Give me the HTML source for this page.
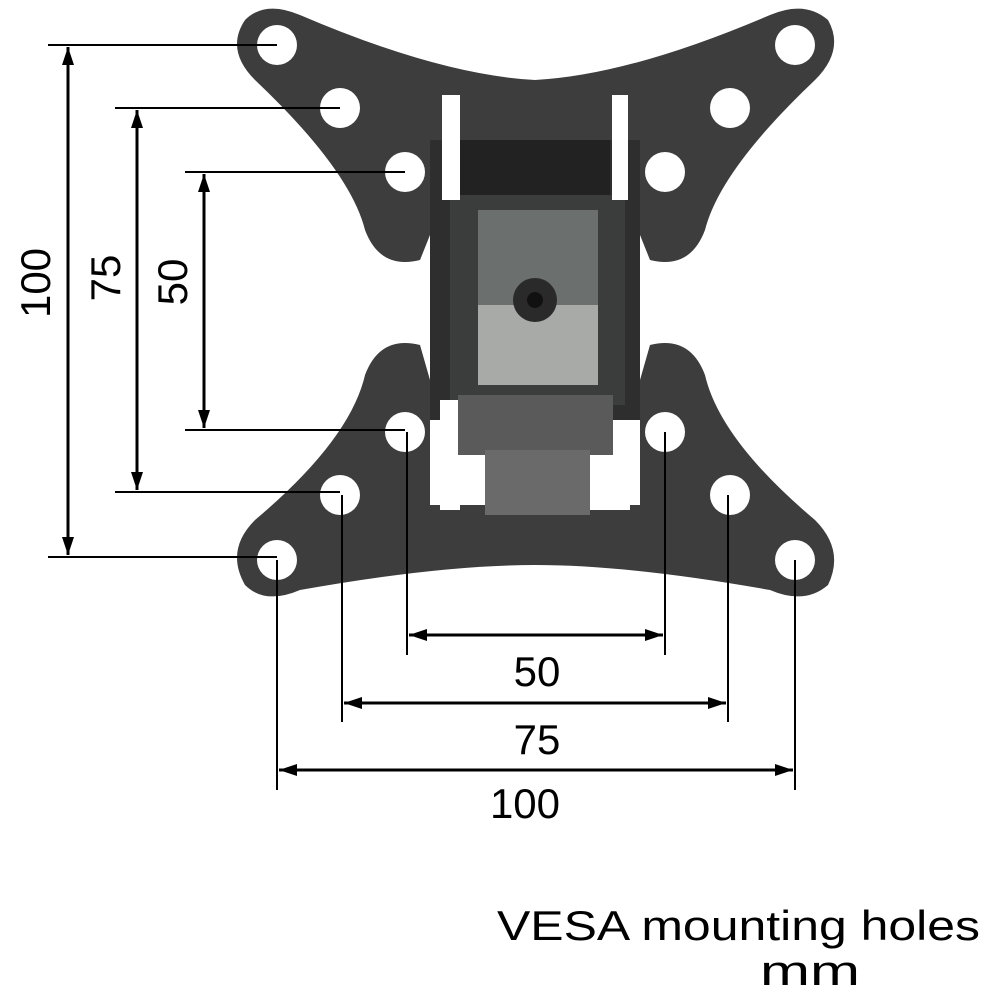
<!DOCTYPE html>
<html><head><meta charset="utf-8"><style>
html,body{margin:0;padding:0;background:#fff;width:1000px;height:1000px;overflow:hidden}
svg{display:block}
text{font-family:"Liberation Sans",sans-serif;fill:#000}
</style></head><body>
<svg width="1000" height="1000" viewBox="0 0 1000 1000" xmlns="http://www.w3.org/2000/svg">
<defs>
<marker id="a" viewBox="0 0 18 12" refX="18" refY="6" markerWidth="18" markerHeight="12" orient="auto-start-reverse" markerUnits="userSpaceOnUse">
<path d="M0,0 L18,6 L0,12 z" fill="#000"/>
</marker>
</defs>
<!-- bracket body -->
<rect x="430" y="80" width="210" height="340" fill="#2e2e2e"/>
<rect x="460" y="90" width="150" height="110" fill="#222"/>
<rect x="450" y="195" width="175" height="210" fill="#3a3d3b"/>
<rect x="478" y="210" width="120" height="175" fill="#6b6f6d"/>
<rect x="478" y="305" width="120" height="80" fill="#a8aaa8"/>
<circle cx="535" cy="300" r="22" fill="#2a2a2a"/>
<circle cx="535" cy="300" r="8" fill="#111"/>
<!-- top plate -->
<path d="M245,20 Q265,0 300,15 Q440,75 535,80 Q630,75 770,15 Q805,0 828,20 Q845,50 815,80 Q720,170 705,230 Q690,270 650,260 L640,235 L640,140 L430,140 L430,235 L420,260 Q380,270 365,230 Q350,170 255,80 Q225,50 245,20 Z" fill="#3d3d3d"/>
<rect x="442" y="95" width="18" height="105" fill="#fff"/>
<rect x="612" y="95" width="16" height="105" fill="#fff"/>
<!-- bottom plate -->
<path d="M420,345 Q380,335 365,375 Q350,440 255,520 Q225,550 245,585 Q265,605 300,590 Q440,565 535,565 Q630,565 770,590 Q805,605 828,585 Q845,550 815,520 Q720,440 705,375 Q690,335 650,345 L640,380 L640,505 L430,505 L430,380 Z" fill="#3d3d3d"/>
<rect x="440" y="400" width="20" height="110" fill="#fff"/>
<rect x="590" y="440" width="40" height="70" fill="#fff"/>
<rect x="458" y="395" width="155" height="60" fill="#5a5a5a"/>
<rect x="485" y="450" width="105" height="65" fill="#6a6a6a"/>
<!-- holes -->
<g fill="#fff">
<circle cx="277" cy="45" r="20"/><circle cx="340" cy="108" r="20"/><circle cx="405" cy="172" r="20"/>
<circle cx="795" cy="45" r="20"/><circle cx="730" cy="108" r="20"/><circle cx="665" cy="172" r="20"/>
<circle cx="405" cy="432" r="20"/><circle cx="340" cy="495" r="20"/><circle cx="277" cy="560" r="20"/>
<circle cx="665" cy="432" r="20"/><circle cx="730" cy="495" r="20"/><circle cx="795" cy="560" r="20"/>
</g>
<!-- dimension lines -->
<g stroke="#000" stroke-width="2" fill="none">
<line x1="48" y1="45" x2="277" y2="45"/><line x1="48" y1="557" x2="277" y2="557"/>
<line x1="115" y1="108" x2="340" y2="108"/><line x1="115" y1="492" x2="340" y2="492"/>
<line x1="185" y1="172" x2="405" y2="172"/><line x1="185" y1="430" x2="405" y2="430"/>
<line x1="277" y1="560" x2="277" y2="790"/><line x1="795" y1="560" x2="795" y2="790"/>
<line x1="342" y1="495" x2="342" y2="722"/><line x1="728" y1="495" x2="728" y2="722"/>
<line x1="407" y1="432" x2="407" y2="655"/><line x1="665" y1="432" x2="665" y2="655"/>
</g>
<g stroke="#000" stroke-width="3">
<line x1="68" y1="47" x2="68" y2="555" marker-start="url(#a)" marker-end="url(#a)"/>
<line x1="137" y1="110" x2="137" y2="490" marker-start="url(#a)" marker-end="url(#a)"/>
<line x1="204" y1="174" x2="204" y2="428" marker-start="url(#a)" marker-end="url(#a)"/>
<line x1="409" y1="635" x2="663" y2="635" marker-start="url(#a)" marker-end="url(#a)"/>
<line x1="344" y1="703" x2="726" y2="703" marker-start="url(#a)" marker-end="url(#a)"/>
<line x1="279" y1="770" x2="793" y2="770" marker-start="url(#a)" marker-end="url(#a)"/>
</g>
<g font-size="42">
<text transform="translate(50,283) rotate(-90)" text-anchor="middle">100</text>
<text transform="translate(120,278) rotate(-90)" text-anchor="middle">75</text>
<text transform="translate(187,282) rotate(-90)" text-anchor="middle">50</text>
<text x="537" y="686" text-anchor="middle">50</text>
<text x="537" y="754" text-anchor="middle">75</text>
<text x="525" y="818" text-anchor="middle">100</text>
<text x="497" y="940" textLength="483" lengthAdjust="spacingAndGlyphs">VESA mounting holes</text>
<text x="760" y="985" textLength="100" lengthAdjust="spacingAndGlyphs">mm</text>
</g>
</svg>
</body></html>
